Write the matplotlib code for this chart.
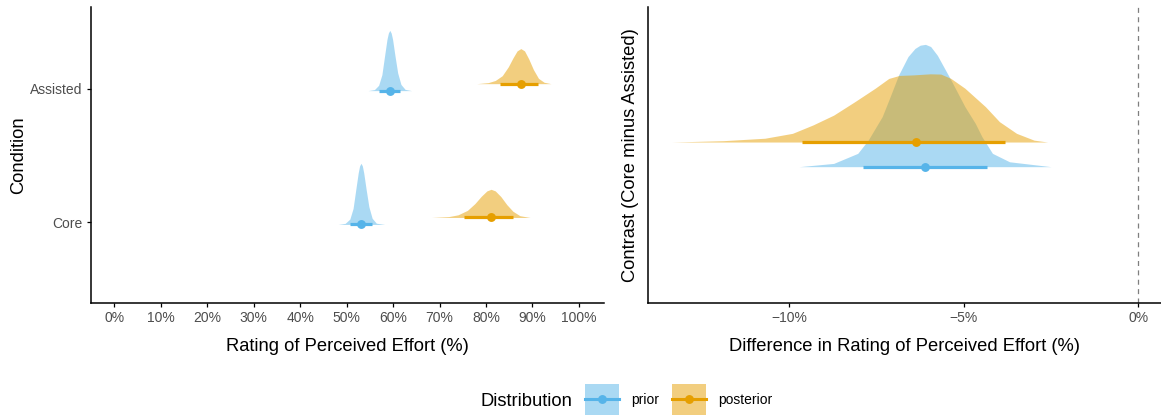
import matplotlib
matplotlib.use("Agg")
from matplotlib import pyplot as plt
from matplotlib.patches import Patch
from matplotlib.lines import Line2D
from matplotlib.legend_handler import HandlerLine2D
from matplotlib.ticker import FuncFormatter

plt.rcParams['font.family'] = ['Liberation Sans', 'DejaVu Sans']

# colours for the two distributions
prior_col = '#56B4E9'
post_col = '#E69F00'

# ---- left panel: condition estimates (% RPE) ----
conditions = ['Core', 'Assisted']

# density profiles (x in %, density per %)
prior_assisted_x = [54.6, 56.0, 56.9, 57.6, 58.2, 58.7, 59.0, 59.3, 59.6, 59.9, 60.4, 61.0, 61.7, 62.6, 64.0]
prior_assisted_d = [0.0, 0.006, 0.03, 0.09, 0.20, 0.29, 0.325, 0.34, 0.325, 0.29, 0.20, 0.10, 0.035, 0.007, 0.0]
prior_core_x = [48.2, 49.7, 50.7, 51.4, 52.0, 52.5, 52.8, 53.1, 53.4, 53.7, 54.2, 54.8, 55.5, 56.4, 58.2]
prior_core_d = [0.0, 0.006, 0.03, 0.09, 0.20, 0.29, 0.33, 0.345, 0.33, 0.29, 0.20, 0.10, 0.035, 0.007, 0.0]
post_assisted_x = [78.0, 80.5, 82.0, 83.5, 84.8, 85.8, 86.7, 87.5, 88.3, 89.2, 90.2, 91.3, 92.5, 94.0]
post_assisted_d = [0.0, 0.006, 0.018, 0.045, 0.095, 0.145, 0.185, 0.198, 0.185, 0.14, 0.08, 0.03, 0.008, 0.0]
post_core_x = [68.3, 72.0, 74.0, 76.0, 77.6, 79.0, 80.2, 81.1, 82.0, 83.2, 84.5, 85.8, 87.3, 89.5]
post_core_d = [0.0, 0.005, 0.015, 0.04, 0.078, 0.12, 0.15, 0.159, 0.15, 0.118, 0.072, 0.035, 0.01, 0.0]

# point estimates and intervals [Core, Assisted]
prior_point = [53.1, 59.3]
prior_lo = [50.8, 57.0]
prior_hi = [55.5, 61.6]
post_point = [81.1, 87.5]
post_lo = [75.3, 83.0]
post_hi = [85.9, 91.1]

# ---- right panel: contrast Core minus Assisted ----
diff_prior_x = [-9.72, -8.73, -8.04, -7.74, -7.34, -7.15, -6.87, -6.60, -6.40, -6.25, -6.10,
                -5.95, -5.76, -5.37, -4.97, -4.67, -4.48, -4.18, -3.69, -2.50]
diff_prior_d = [0.0, 0.012, 0.049, 0.098, 0.184, 0.245, 0.337, 0.405, 0.435, 0.447, 0.450,
                0.442, 0.410, 0.319, 0.221, 0.159, 0.110, 0.049, 0.018, 0.0]
diff_post_x = [-13.37, -11.89, -10.70, -9.91, -9.32, -8.73, -8.13, -7.54, -7.15, -6.85,
               -6.45, -5.96, -5.66, -5.37, -4.97, -4.38, -3.98, -3.49, -2.99, -2.60]
diff_post_d = [0.0, 0.005, 0.014, 0.032, 0.063, 0.099, 0.148, 0.198, 0.234, 0.245,
               0.247, 0.251, 0.250, 0.234, 0.198, 0.130, 0.075, 0.032, 0.007, 0.0]
diff_prior_point, diff_prior_lo, diff_prior_hi = -6.11, -7.89, -4.33
diff_post_point, diff_post_lo, diff_post_hi = -6.38, -9.65, -3.83


def halfeye(ax, x, d, base, scale, point, lo, hi, col):
    top = [base + v * scale for v in d]
    ax.fill_between(x, base, top, color=col, alpha=0.5, lw=0)
    ax.plot([lo, hi], [base, base], color=col, lw=2.3, solid_capstyle='butt')
    ax.plot([point], [base], 'o', color=col, ms=6.4, mec='none')


def style(ax):
    for s in ['top', 'right']:
        ax.spines[s].set_visible(False)
    for s in ['left', 'bottom']:
        ax.spines[s].set_linewidth(1.1)
    ax.tick_params(labelsize=10, labelcolor='#4D4D4D', length=3, width=0.9, pad=3)


class CentredLine(HandlerLine2D):
    # put the legend line in the middle of the key box
    def create_artists(self, legend, orig, xdescent, ydescent, width, height, fontsize, trans):
        arts = super().create_artists(legend, orig, xdescent, ydescent, width, height,
                                      fontsize, trans)
        for a in arts:
            a.set_ydata([height / 2 - ydescent] * len(a.get_ydata()))
        return arts


fig = plt.figure(figsize=(11.61, 4.15), dpi=100)

ax1 = fig.add_axes([91 / 1161, 1 - 302.7 / 415, 513 / 1161, 295.7 / 415])
style(ax1)
sc1 = 1.324
prior_shift = -0.015
post_shift = 0.037
halfeye(ax1, prior_core_x, prior_core_d, 1 + prior_shift, sc1,
        prior_point[0], prior_lo[0], prior_hi[0], prior_col)
halfeye(ax1, prior_assisted_x, prior_assisted_d, 2 + prior_shift, sc1,
        prior_point[1], prior_lo[1], prior_hi[1], prior_col)
halfeye(ax1, post_core_x, post_core_d, 1 + post_shift, sc1,
        post_point[0], post_lo[0], post_hi[0], post_col)
halfeye(ax1, post_assisted_x, post_assisted_d, 2 + post_shift, sc1,
        post_point[1], post_lo[1], post_hi[1], post_col)
ax1.set_xlim(-5, 105.4)
ax1.set_ylim(0.4, 2.61)
ax1.set_xticks(range(0, 101, 10))
ax1.xaxis.set_major_formatter(FuncFormatter(lambda v, p: '%d%%' % v))
ax1.set_yticks([1, 2])
ax1.set_yticklabels(conditions)
ax1.set_xlabel('Rating of Perceived Effort (%)', fontsize=13.2)
ax1.set_ylabel('Condition', fontsize=13.2)
ax1.xaxis.set_label_coords(0.5, -0.118)
ax1.yaxis.set_label_coords(-0.125, 0.5)

ax2 = fig.add_axes([648 / 1161, 1 - 302.7 / 415, 513 / 1161, 295.7 / 415])
style(ax2)
sc2 = 1.103
ax2.axvline(0, color='#7F7F7F', lw=0.9, ls=(0, (4, 3.5)))
halfeye(ax2, diff_prior_x, diff_prior_d, 0.952, sc2,
        diff_prior_point, diff_prior_lo, diff_prior_hi, prior_col)
halfeye(ax2, diff_post_x, diff_post_d, 1.052, sc2,
        diff_post_point, diff_post_lo, diff_post_hi, post_col)
ax2.set_xlim(-14.05, 0.65)
ax2.set_ylim(0.4, 1.6)
ax2.set_xticks([-10, -5, 0])
ax2.xaxis.set_major_formatter(FuncFormatter(lambda v, p: ('%d%%' % v).replace('-', '\u2212')))
ax2.set_yticks([])
ax2.set_xlabel('Difference in Rating of Perceived Effort (%)', fontsize=13.2)
ax2.set_ylabel('Contrast (Core minus Assisted)', fontsize=13.2)
ax2.xaxis.set_label_coords(0.5, -0.118)
ax2.yaxis.set_label_coords(-0.018, 0.5)

# legend at the bottom
handles = [
    (Patch(facecolor=prior_col, alpha=0.5, lw=0),
     Line2D([], [], color=prior_col, lw=2.2, marker='o', ms=6.4, mec='none')),
    (Patch(facecolor=post_col, alpha=0.5, lw=0),
     Line2D([], [], color=post_col, lw=2.2, marker='o', ms=6.4, mec='none')),
]
fig.legend(handles, ['prior', 'posterior'], ncol=2, loc='center left',
           bbox_to_anchor=(585 / 1161, 1 - 399.5 / 415), frameon=False, fontsize=10,
           numpoints=1, handlelength=2.45, handleheight=3.05, handletextpad=0.9,
           columnspacing=0.9, borderpad=0, borderaxespad=0,
           handler_map={Line2D: CentredLine()})
fig.text(481 / 1161, 1 - 401 / 415, 'Distribution', fontsize=13.2, ha='left', va='center')

fig.savefig('out.png', dpi=100)
